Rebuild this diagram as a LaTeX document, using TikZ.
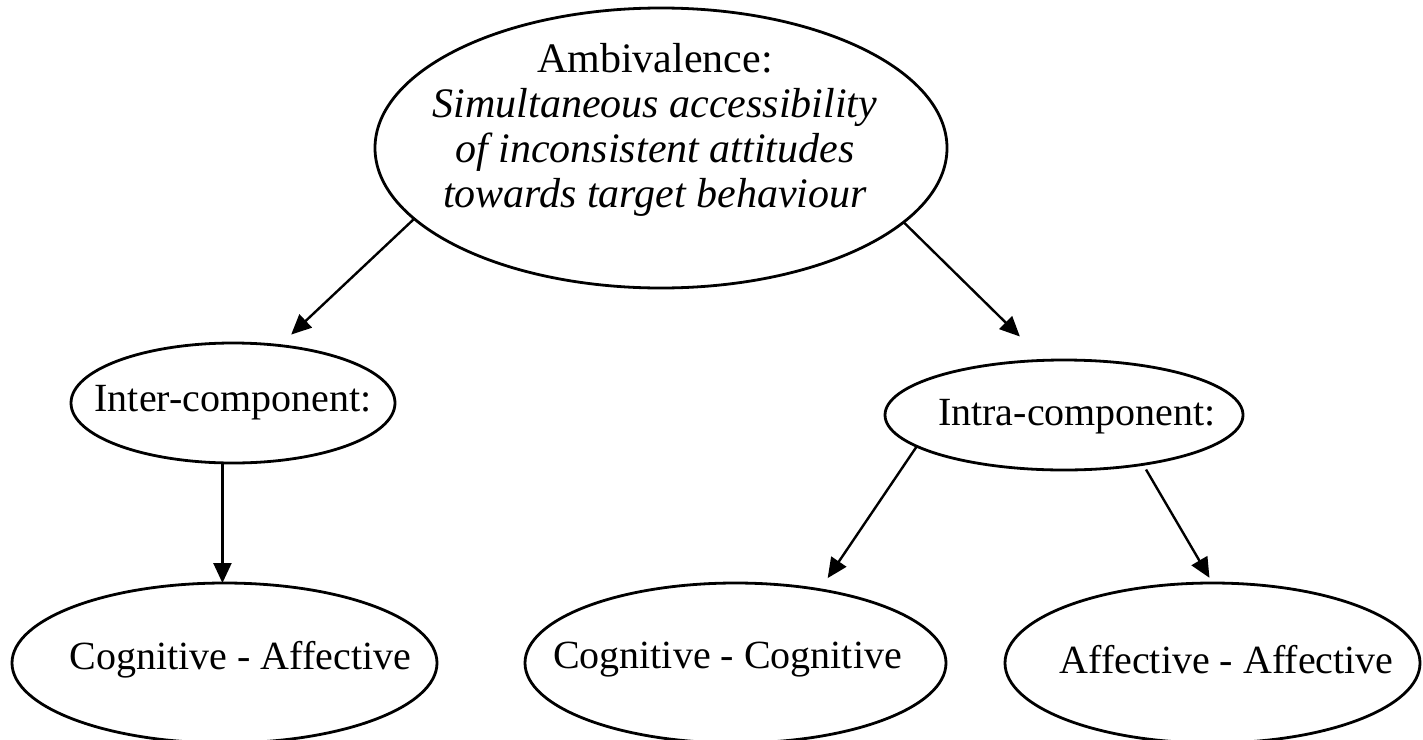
\documentclass[tikz,border=0pt]{standalone}
\usepackage{fontspec}
\setmainfont{Liberation Serif}
\usetikzlibrary{shapes.geometric, arrows.meta}
\tikzstyle{bubble} = [ellipse, draw=black, line width=1.4pt, inner sep=0pt, outer sep=0pt]
\tikzstyle{bubbletext} = [align=center, font=\fontsize{20}{22.5}\selectfont, inner sep=0pt]
\tikzstyle{arrow} = [line width=1.2pt, -{Triangle[length=10pt, width=9pt]}]

\begin{document}
\begin{tikzpicture}[x=0.5pt, y=-0.5pt]
    \useasboundingbox (0,0) rectangle (1423,739);

    % Ellipses
    \node[bubble, minimum width=286pt, minimum height=140pt] (amb) at (661,148) {};
    \node[bubble, minimum width=162pt, minimum height=60pt] (inter) at (233,403) {};
    \node[bubble, minimum width=179pt, minimum height=55pt] (intra) at (1064,415) {};
    \node[bubble, minimum width=212.5pt, minimum height=80pt] (ca) at (224.5,663) {};
    \node[bubble, minimum width=210.5pt, minimum height=80pt] (cc) at (735.5,663) {};
    \node[bubble, minimum width=207.5pt, minimum height=80pt] (aa) at (1212.5,663) {};

    % Texts
    \node[bubbletext, font=\fontsize{21}{22.5}\selectfont] (ambtext) at ([xshift=-3pt, yshift=9pt]amb.center) {Ambivalence:\\ \textit{Simultaneous accessibility}\\ \textit{of inconsistent attitudes}\\ \textit{towards target behaviour}};
    \node[bubbletext] (intertext) at (inter.center) {Inter-component:};
    \node[bubbletext] (intratext) at ([xshift=6.5pt, yshift=-1pt]intra.center) {Intra-component:};
    \node[bubbletext] (catext) at ([xshift=8pt, yshift=1.5pt]ca.center) {Cognitive - Affective};
    \node[bubbletext] (cctext) at ([xshift=-4pt, yshift=1.5pt]cc.center) {Cognitive - Cognitive};
    \node[bubbletext] (aatext) at ([xshift=7pt, yshift=1.5pt]aa.center) {Affective - Affective};

    % Arrows
    \draw[arrow, shorten >=8pt] (amb.196) -- (inter.51);
    \draw[arrow, shorten >=17pt] (amb.343) -- (intra.110);
    \draw[arrow] (inter.260) -- (inter.260 |- ca.north);
    \draw[arrow, shorten >=7pt] (intra.192) -- (cc.41);
    \draw[arrow, shorten <=3pt, shorten >=3pt] (intra.328) -- (aa.north);

\end{tikzpicture}
\end{document}
